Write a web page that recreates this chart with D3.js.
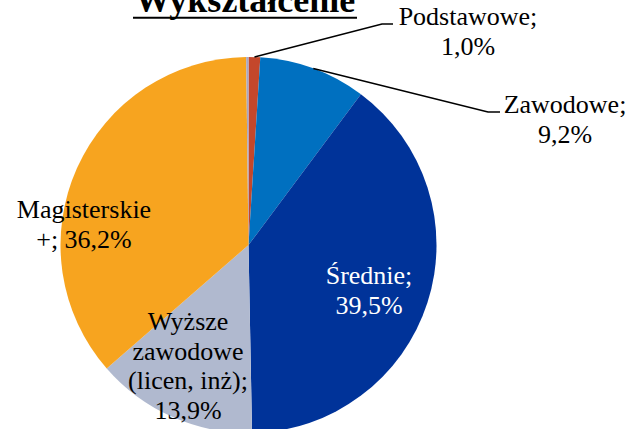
<!DOCTYPE html>
<html>
<head>
<meta charset="utf-8">
<script src="https://cdn.jsdelivr.net/npm/d3@7"></script>
<style>
  body { margin: 0; background: #fff; }
</style>
</head>
<body>
<div id="chart"></div>
<script>
// data (clockwise from 12 o'clock)
var categories = ["Podstawowe", "Zawodowe", "Średnie", "Wyższe zawodowe (licen, inż)", "Magisterskie +", "Inne"];
var values = [1.0, 9.2, 39.5, 13.9, 36.2, 0.2];
var colors = ["#C4472B", "#0070C0", "#003399", "#B0B9CF", "#F7A41F", "#A7A7C6"];
var labelLines = [
  ["Podstawowe;", "1,0%"],
  ["Zawodowe;", "9,2%"],
  ["Średnie;", "39,5%"],
  ["Wyższe", "zawodowe", "(licen, inż);", "13,9%"],
  ["Magisterskie", "+; 36,2%"],
  []
];

var width = 632, height = 429;
var cx = 248.5, cy = 245, radius = 188;
var serif = "'Liberation Serif'";

var svg = d3.select("#chart").append("svg")
  .attr("width", width)
  .attr("height", height);

// title (cut at the top like the original)
svg.append("text")
  .attr("x", 245)
  .attr("y", 12)
  .attr("text-anchor", "middle")
  .style("font-family", serif)
  .style("font-size", "36px")
  .style("font-weight", "bold")
  .text("Wykształcenie");
svg.append("line")
  .attr("x1", 133).attr("x2", 357)
  .attr("y1", 17.8).attr("y2", 17.8)
  .attr("stroke", "#000")
  .attr("stroke-width", 2);

var pie = d3.pie().sort(null).value(d => d.value);
var data = categories.map((c, i) => ({name: c, value: values[i], color: colors[i], lines: labelLines[i]}));
var arcs = pie(data);

var arc = d3.arc().innerRadius(0).outerRadius(radius);

var g = svg.append("g").attr("transform", `translate(${cx}, ${cy})`);

g.selectAll("path")
  .data(arcs)
  .enter()
  .append("path")
  .attr("d", arc)
  .attr("fill", d => d.data.color);

// label placement (Excel "best fit" style)
var labelPos = {
  "Podstawowe": {x: 468, y: 25, white: false, leader: [382, 24, 393]},
  "Zawodowe": {x: 565, y: 113, white: false, leader: [488, 112, 500]},
  "Średnie": {x: 369, y: 284, white: true},
  "Wyższe zawodowe (licen, inż)": {x: 188, y: 330, white: false},
  "Magisterskie +": {x: 84, y: 218, white: false}
};

var lineH = 29.5;

arcs.forEach(function(d) {
  var p = labelPos[d.data.name];
  if (!p) return;
  if (p.leader) {
    var mid = (d.startAngle + d.endAngle) / 2;
    var sx = cx + radius * Math.sin(mid);
    var sy = cy - radius * Math.cos(mid);
    svg.append("polyline")
      .attr("points", `${sx},${sy} ${p.leader[0]},${p.leader[1]} ${p.leader[2]},${p.leader[1]}`)
      .attr("fill", "none")
      .attr("stroke", "#000")
      .attr("stroke-width", 1.5);
  }
  var t = svg.append("text")
    .attr("text-anchor", "middle")
    .style("font-family", serif)
    .style("font-size", "26px")
    .attr("fill", p.white ? "#fff" : "#000");
  d.data.lines.forEach(function(line, i) {
    t.append("tspan")
      .attr("x", p.x)
      .attr("y", p.y + i * lineH)
      .text(line);
  });
});
</script>
</body>
</html>
